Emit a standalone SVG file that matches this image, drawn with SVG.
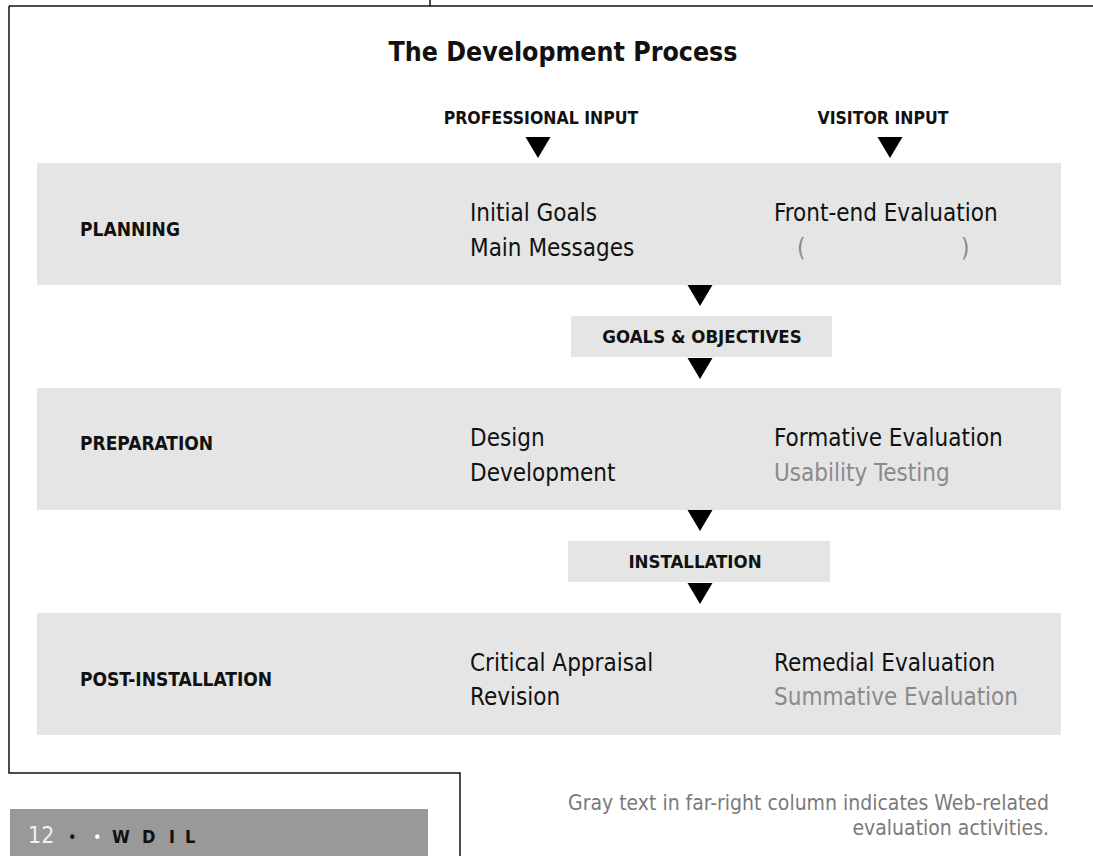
<svg xmlns="http://www.w3.org/2000/svg" width="1093" height="856" viewBox="0 0 1093 856">
  <defs>
    <style>
      text { font-family: "DejaVu Sans Condensed", "DejaVu Sans", sans-serif; font-stretch: condensed; fill: #111; }
      .title { font-size: 26.5px; font-weight: bold; }
      .head { font-size: 17.5px; font-weight: bold; }
      .stage { font-size: 19px; font-weight: bold; }
      .box { font-size: 18.5px; font-weight: bold; }
      .item { font-size: 24px; }
      .web { fill: #8a8a8a; }
      .note { font-size: 21px; fill: #7a7a7a; }
      .band { fill: #e5e5e5; }
      .frame { fill: none; stroke: #111; stroke-width: 1.5; }
      .tri { fill: #000; }
      .foot { font-size: 18px; font-weight: bold; fill: #111; }
    </style>
    <path id="tri" class="tri" d="M-12.5,0 L12.5,0 L0,21 Z"/>
  </defs>

  <!-- page frame -->
  <g id="frame">
    <path class="frame" d="M9,6 H1093"/>
    <path class="frame" d="M430,0 V6"/>
    <path class="frame" d="M9,6 V773 H460 V856"/>
  </g>

  <text class="title" x="563" y="61" text-anchor="middle">The Development Process</text>

  <!-- column headings -->
  <g id="col-professional">
    <text class="head" x="541" y="124" text-anchor="middle">PROFESSIONAL INPUT</text>
  </g>
  <g id="col-visitor">
    <text class="head" x="883" y="124" text-anchor="middle">VISITOR INPUT</text>
  </g>

  <!-- stage bands -->
  <g id="planning">
    <rect class="band" x="37" y="163" width="1024" height="122"/>
    <text class="stage" x="80" y="236">PLANNING</text>
    <text class="item" x="470" y="221">Initial Goals</text>
    <text class="item" x="470" y="256">Main Messages</text>
    <text class="item" x="774" y="221">Front-end Evaluation</text>
    <text class="item web" x="797" y="256">(</text>
    <text class="item web" x="961" y="256">)</text>
  </g>

  <g id="goals">
    <rect class="band" x="571" y="316" width="261" height="41"/>
    <text class="box" x="702" y="343" text-anchor="middle">GOALS &amp; OBJECTIVES</text>
  </g>

  <g id="preparation">
    <rect class="band" x="37" y="388" width="1024" height="122"/>
    <text class="stage" x="80" y="450">PREPARATION</text>
    <text class="item" x="470" y="446">Design</text>
    <text class="item" x="470" y="481">Development</text>
    <text class="item" x="774" y="446">Formative Evaluation</text>
    <text class="item web" x="774" y="481">Usability Testing</text>
  </g>

  <g id="installation">
    <rect class="band" x="568" y="541" width="262" height="41"/>
    <text class="box" x="695" y="568" text-anchor="middle">INSTALLATION</text>
  </g>

  <g id="post-installation">
    <rect class="band" x="37" y="613" width="1024" height="122"/>
    <text class="stage" x="80" y="686">POST-INSTALLATION</text>
    <text class="item" x="470" y="671">Critical Appraisal</text>
    <text class="item" x="470" y="705">Revision</text>
    <text class="item" x="774" y="671">Remedial Evaluation</text>
    <text class="item web" x="774" y="705">Summative Evaluation</text>
  </g>

  <!-- flow arrows -->
  <g id="connectors">
    <use href="#tri" x="538" y="137"/>
    <use href="#tri" x="890" y="137"/>
    <use href="#tri" x="700" y="285"/>
    <use href="#tri" x="700" y="358"/>
    <use href="#tri" x="700" y="510"/>
    <use href="#tri" x="700" y="583"/>
  </g>

  <!-- footer -->
  <g id="footer">
    <rect x="10" y="809" width="418" height="47" fill="#999"/>
    <text x="28" y="843" font-size="23" style="fill:#f0f0f0">12</text>
    <text x="68" y="843" font-size="16" style="fill:#111">•</text>
    <text x="93" y="843" font-size="16" style="fill:#fff">•</text>
    <text class="foot" x="112" y="843">W</text>
    <text class="foot" x="142" y="843">D</text>
    <text class="foot" x="169" y="843">I</text>
    <text class="foot" x="185" y="843">L</text>
  </g>

  <g id="legend">
    <text class="note" x="1049" y="810" text-anchor="end">Gray text in far-right column indicates Web-related</text>
    <text class="note" x="1049" y="835" text-anchor="end">evaluation activities.</text>
  </g>
</svg>
